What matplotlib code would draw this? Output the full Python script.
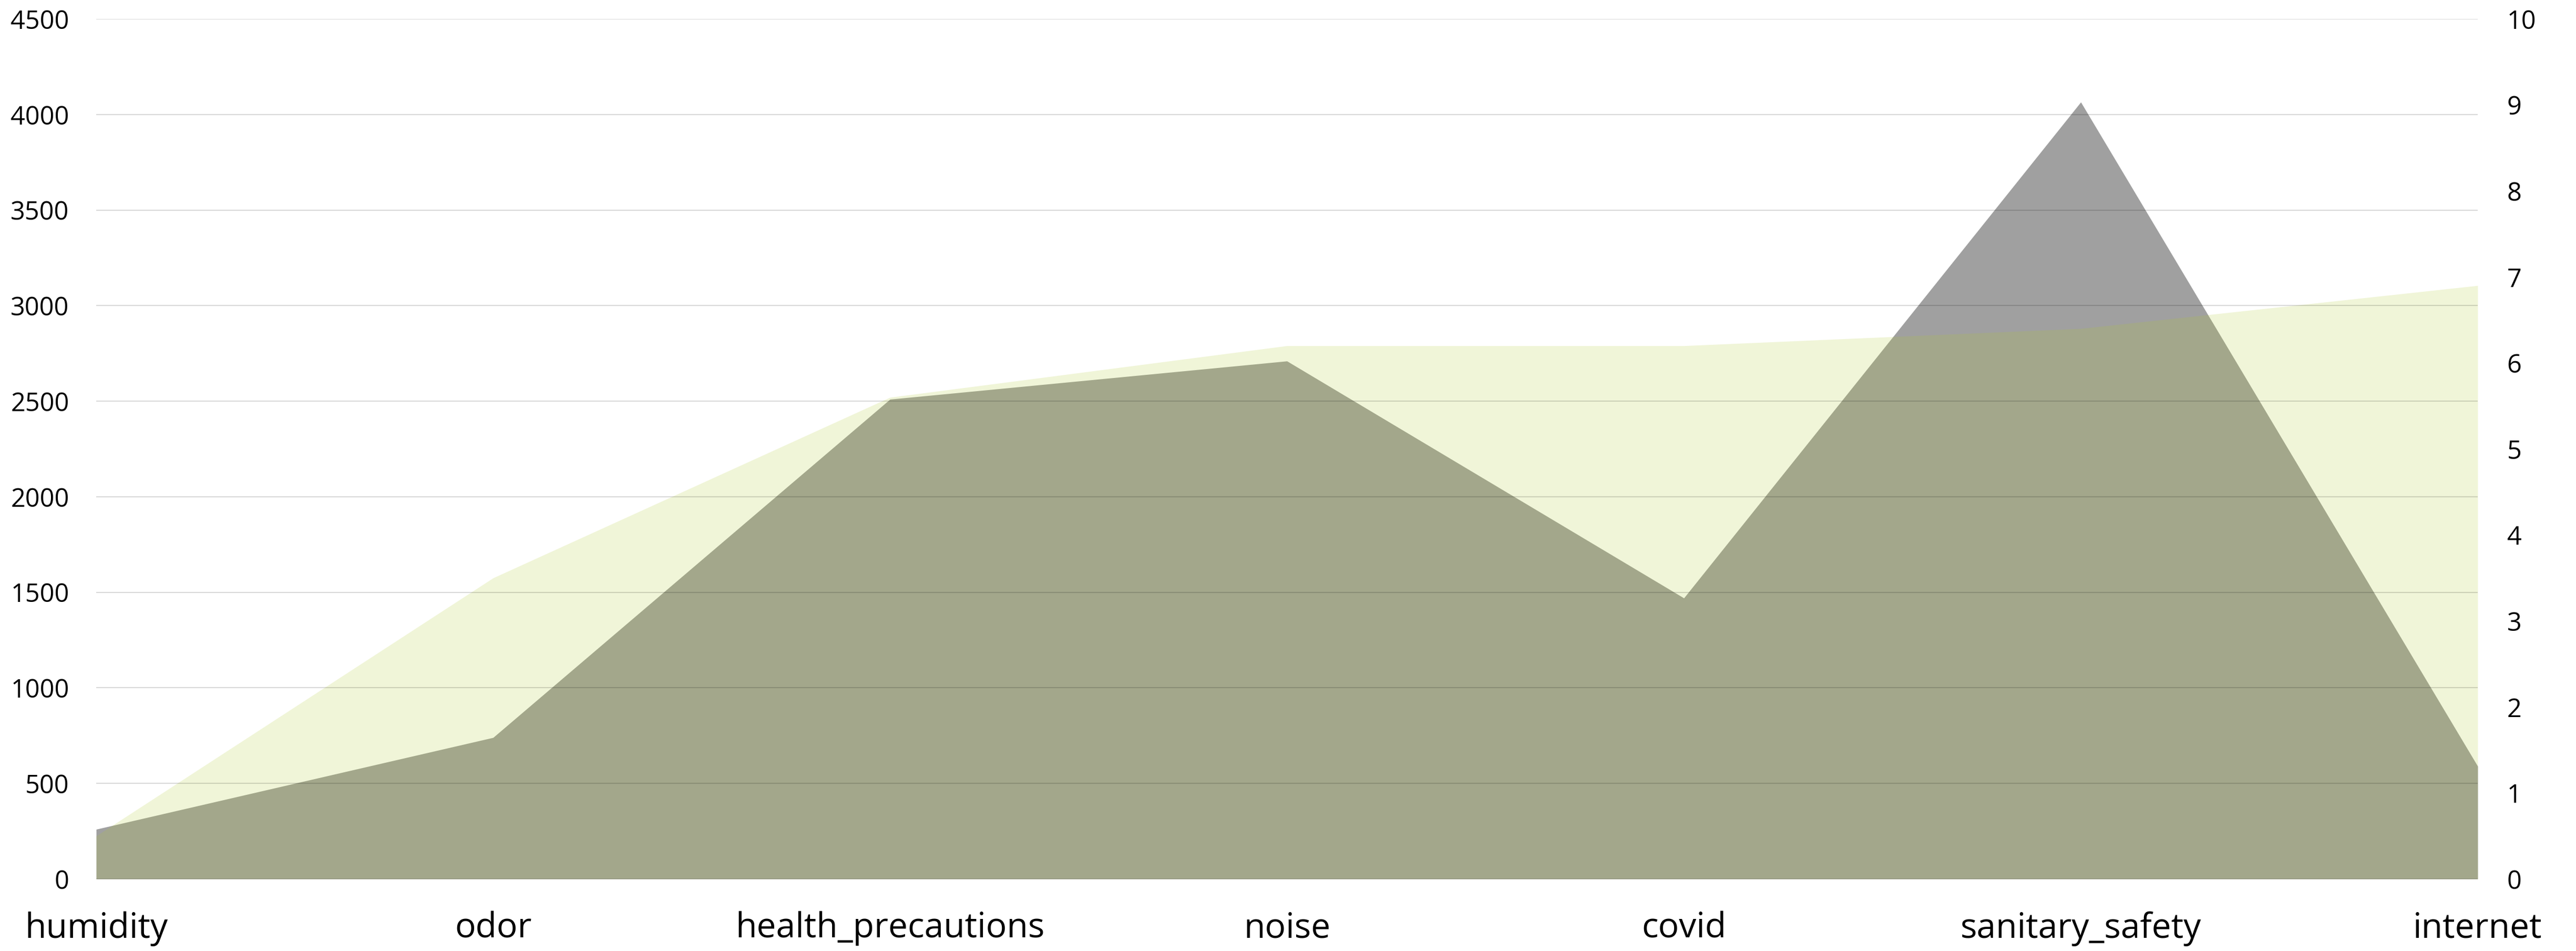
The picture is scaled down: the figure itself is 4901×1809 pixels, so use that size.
import matplotlib.pyplot as plt
import numpy as np

categories = ['humidity', 'odor', 'health_precautions', 'noise', 'covid',
              'sanitary_safety', 'internet']
counts = [260, 740, 2510, 2710, 1470, 4065, 590]          # left axis
scores = [0.5, 3.5, 5.6, 6.2, 6.2, 6.4, 6.9]             # right axis
left_ticks = list(range(0, 4501, 500))
right_ticks = list(range(0, 11))

plt.rcParams['font.family'] = ['Open Sans', 'DejaVu Sans']

fig = plt.figure(figsize=(49.01, 18.09), dpi=100)
ax = fig.add_axes([183 / 4901, 1 - 1672 / 1809, (4714 - 183) / 4901, (1672 - 36) / 1809])
ax2 = ax.twinx()

x = np.arange(len(categories))
ax.fill_between(x, 0, counts, color='#a0a0a0', linewidth=0)
ax2.fill_between(x, 0, scores, color='#b0ca31', alpha=0.19, linewidth=0)

# gridlines follow the left axis but sit above both areas
ax2.hlines(left_ticks, 0, 1, transform=ax.get_yaxis_transform(),
           color='black', alpha=0.15, linewidth=1.5, zorder=5)

ax.set_xlim(0, len(categories) - 1)
ax.set_ylim(0, 4500)
ax2.set_ylim(0, 10)
ax.set_xticks(x)
ax.set_xticklabels(categories, fontsize=47.5)
ax.set_yticks(left_ticks)
ax.set_yticklabels([str(t) for t in left_ticks], fontsize=35)
ax2.set_yticks(right_ticks)
ax2.set_yticklabels([str(t) for t in right_ticks], fontsize=35)

for a in (ax, ax2):
    for s in a.spines.values():
        s.set_visible(False)
    a.tick_params(length=0)
ax.tick_params(axis='y', pad=37)
ax2.tick_params(axis='y', pad=40)
ax.tick_params(axis='x', pad=44)

fig.savefig('out.png', dpi=100)
